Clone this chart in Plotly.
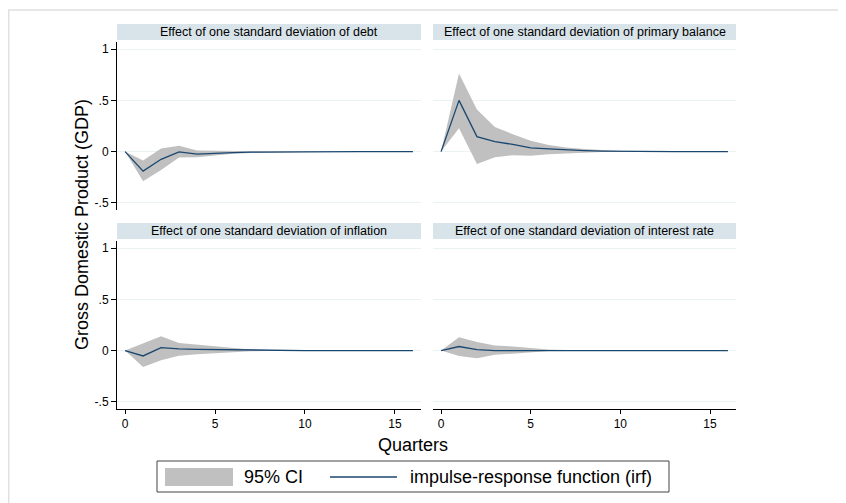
import plotly.graph_objects as go
from plotly.subplots import make_subplots

quarters = list(range(17))

debt_irf   = [0, -0.19, -0.075, -0.002, -0.025, -0.015, -0.010, -0.006, -0.004, -0.002, -0.001, -0.001, 0, 0, 0, 0, 0]
debt_lo    = [0, -0.29, -0.18, -0.058, -0.055, -0.035, -0.022, -0.013, -0.008, -0.005, -0.003, -0.002, -0.001, 0, 0, 0, 0]
debt_hi    = [0, -0.087, 0.03, 0.058, 0.010, 0.006, 0.003, 0.002, 0.001, 0.001, 0.001, 0, 0, 0, 0, 0, 0]

pb_irf     = [0, 0.50, 0.146, 0.097, 0.070, 0.036, 0.026, 0.015, 0.010, 0.005, 0.002, 0.001, 0.001, 0, 0, 0, 0]
pb_lo      = [0, 0.227, -0.12, -0.055, -0.035, -0.040, -0.026, -0.015, -0.010, -0.005, -0.002, -0.001, -0.001, 0, 0, 0, 0]
pb_hi      = [0, 0.763, 0.41, 0.24, 0.17, 0.107, 0.065, 0.040, 0.025, 0.012, 0.006, 0.003, 0.001, 0, 0, 0, 0]

inf_irf    = [0, -0.052, 0.030, 0.016, 0.013, 0.010, 0.005, 0.002, 0.001, 0, 0, 0, 0, 0, 0, 0, 0]
inf_lo     = [0, -0.16, -0.094, -0.050, -0.035, -0.025, -0.015, -0.006, -0.003, -0.001, 0, 0, 0, 0, 0, 0, 0]
inf_hi     = [0, 0.068, 0.14, 0.075, 0.060, 0.045, 0.025, 0.010, 0.005, 0.002, 0.001, 0, 0, 0, 0, 0, 0]

int_irf    = [0, 0.040, 0.010, 0.0, 0.0, 0.0, 0.003, 0.0, 0, 0, 0, 0, 0, 0, 0, 0, 0]
int_lo     = [0, -0.052, -0.075, -0.040, -0.030, -0.015, -0.005, -0.003, -0.001, 0, 0, 0, 0, 0, 0, 0, 0]
int_hi     = [0, 0.13, 0.085, 0.050, 0.040, 0.025, 0.010, 0.005, 0.002, 0.001, 0, 0, 0, 0, 0, 0, 0]

panel_titles = [
    "Effect of one standard deviation of debt",
    "Effect of one standard deviation of primary balance",
    "Effect of one standard deviation of inflation",
    "Effect of one standard deviation of interest rate",
]
panels = [(debt_irf, debt_lo, debt_hi), (pb_irf, pb_lo, pb_hi),
          (inf_irf, inf_lo, inf_hi), (int_irf, int_lo, int_hi)]

ytick_vals = [-0.5, 0, 0.5, 1]
ytick_text = ["-.5", "0", ".5", "1"]
xtick_vals = [0, 5, 10, 15]
xtick_text = ["0", "5", "10", "15"]

OFF = 8  # page body margin
W, H = 846 - OFF, 503 - OFF
FONT = "Liberation Sans, Arial, Helvetica, sans-serif"
CI_COLOR = "#c0c0c0"
IRF_COLOR = "#1a476f"
STRIP = "#d9e4ea"
GRID = "#eaf2f3"

def px(x):
    return (x - OFF) / W

def py(y):
    return 1 - (y - OFF) / H

fig = make_subplots(rows=2, cols=2)

# panel geometry in window pixels
xdom = [(117, 421), (433, 736)]
ydom = [(42, 210), (241, 409)]
strip_y = [(24, 40), (223, 239)]

for i, (irf, lo, hi) in enumerate(panels):
    r, c = i // 2 + 1, i % 2 + 1
    fig.add_trace(go.Scatter(x=quarters, y=lo, mode="lines", line=dict(width=0, color=CI_COLOR),
                             showlegend=False, hoverinfo="skip"), row=r, col=c)
    fig.add_trace(go.Scatter(x=quarters, y=hi, mode="lines", line=dict(width=0, color=CI_COLOR),
                             fill="tonexty", fillcolor=CI_COLOR, showlegend=False), row=r, col=c)
    fig.add_trace(go.Scatter(x=quarters, y=irf, mode="lines", line=dict(width=1.3, color=IRF_COLOR),
                             showlegend=False), row=r, col=c)

    x0, x1 = xdom[c - 1]
    y0, y1 = ydom[r - 1]
    left = (c == 1)
    bottom = (r == 2)
    fig.update_xaxes(row=r, col=c, domain=[px(x0), px(x1)], range=[-0.45, 16.45],
                     showgrid=False, zeroline=False,
                     showline=bottom, linecolor="black", linewidth=1,
                     ticks="outside" if bottom else "", ticklen=4, tickcolor="black",
                     tickvals=xtick_vals, ticktext=xtick_text, showticklabels=bottom,
                     tickfont=dict(family=FONT, size=12, color="black"))
    fig.update_yaxes(row=r, col=c, domain=[py(y1), py(y0)], range=[-0.57, 1.07],
                     showgrid=True, gridcolor=GRID, gridwidth=1, zeroline=False,
                     showline=left, linecolor="black", linewidth=1,
                     ticks="outside" if left else "", ticklen=5, tickcolor="black",
                     tickvals=ytick_vals, ticktext=ytick_text, showticklabels=left,
                     tickfont=dict(family=FONT, size=12, color="black"))

    s0, s1 = strip_y[r - 1]
    fig.add_shape(type="rect", xref="paper", yref="paper", x0=px(x0), x1=px(x1),
                  y0=py(s1), y1=py(s0), fillcolor=STRIP, line=dict(width=0), layer="below")
    fig.add_annotation(text=panel_titles[i], xref="paper", yref="paper",
                       x=px((x0 + x1) / 2), y=py((s0 + s1) / 2), showarrow=False,
                       xanchor="center", yanchor="middle",
                       font=dict(family=FONT, size=12.5, color="black"))

# outer frame
fig.add_shape(type="rect", xref="paper", yref="paper", x0=px(8.7), x1=px(870), y0=py(530), y1=py(10),
              line=dict(color="#e0e0e0", width=1.5), fillcolor="rgba(0,0,0,0)")

# axis titles
fig.add_annotation(text="Gross Domestic Product (GDP)", xref="paper", yref="paper",
                   x=px(82), y=py(225), textangle=-90, showarrow=False,
                   xanchor="center", yanchor="middle", font=dict(family=FONT, size=18, color="black"))
fig.add_annotation(text="Quarters", xref="paper", yref="paper",
                   x=px(413), y=py(445), showarrow=False,
                   xanchor="center", yanchor="middle", font=dict(family=FONT, size=18, color="black"))

# legend box
fig.add_shape(type="rect", xref="paper", yref="paper", x0=px(157), x1=px(669), y0=py(492), y1=py(461),
              line=dict(color="#444444", width=1), fillcolor="white")
fig.add_shape(type="rect", xref="paper", yref="paper", x0=px(165), x1=px(233), y0=py(486), y1=py(468),
              line=dict(width=0), fillcolor=CI_COLOR)
fig.add_annotation(text="95% CI", xref="paper", yref="paper", x=px(242), y=py(477), showarrow=False,
                   xanchor="left", yanchor="middle", font=dict(family=FONT, size=18, color="black"))
fig.add_shape(type="line", xref="paper", yref="paper", x0=px(330), x1=px(397), y0=py(477), y1=py(477),
              line=dict(color=IRF_COLOR, width=1.3))
fig.add_annotation(text="impulse-response function (irf)", xref="paper", yref="paper", x=px(408), y=py(477),
                   showarrow=False, xanchor="left", yanchor="middle",
                   font=dict(family=FONT, size=18, color="black"))

fig.update_layout(width=W, height=H, margin=dict(l=0, r=0, t=0, b=0),
                  paper_bgcolor="white", plot_bgcolor="white", showlegend=False,
                  font=dict(family=FONT))

fig.write_html("out.html")
